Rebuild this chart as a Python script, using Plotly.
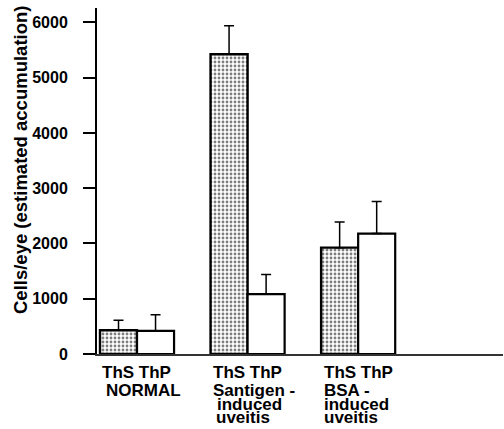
import plotly.graph_objects as go

# ---- data ----
groups = ["NORMAL", "Santigen-induced uveitis", "BSA-induced uveitis"]
ths_values = [430, 5425, 1925]
ths_errors = [180, 515, 465]
thp_values = [420, 1085, 2180]
thp_errors = [290, 355, 580]
y_ticks = [0, 1000, 2000, 3000, 4000, 5000, 6000]
group_label_lines = [
    ["ThS ThP", "NORMAL"],
    ["ThS ThP", "Santigen -", "induced", "uveitis"],
    ["ThS ThP", "BSA -", "induced", "uveitis"],
]
y_title = "Cells/eye (estimated accumulation)"

W, H = 504, 429
ML, MR, MT, MB = 97, 1, 8, 75
PH = H - MT - MB
FONT = "Liberation Sans, Arial, Helvetica, sans-serif"

fig = go.Figure()
fig.add_trace(go.Bar(
    x=groups, y=ths_values, name="ThS",
    marker=dict(color="white", line=dict(color="black", width=2.4),
                pattern=dict(shape=".", fgcolor="black", bgcolor="white",
                             size=4, solidity=0.4)),
    error_y=dict(type="data", array=ths_errors, arrayminus=[0]*3, symmetric=False,
                 color="black", thickness=1.5, width=5),
))
fig.add_trace(go.Bar(
    x=groups, y=thp_values, name="ThP",
    marker=dict(color="white", line=dict(color="black", width=2.2)),
    error_y=dict(type="data", array=thp_errors, arrayminus=[0]*3, symmetric=False,
                 color="black", thickness=1.5, width=5),
))


def py(ypix):
    return (H - MB - ypix) / PH


annotations = []
line_y = [372, 390, 404.5, 418]
offsets = [
    [-36, -32],
    [-36, -36, -32, -33],
    [-35, -35, -35, -35],
]
for gi, lines in enumerate(group_label_lines):
    for li, txt in enumerate(lines):
        annotations.append(dict(
            x=gi, xref="x", y=py(line_y[li]), yref="paper",
            text=txt, showarrow=False, xanchor="left", yanchor="middle",
            xshift=offsets[gi][li], borderpad=0,
            font=dict(family=FONT, size=17, color="black", weight="bold"),
        ))

annotations.append(dict(
    x=-77 / (W - ML - MR), xref="paper", y=py(160), yref="paper",
    text=y_title, textangle=-90, showarrow=False,
    xanchor="center", yanchor="middle",
    font=dict(family=FONT, size=18.5, color="black", weight="bold"),
))

fig.update_layout(
    width=W, height=H,
    margin=dict(l=ML, r=MR, t=MT, b=MB),
    paper_bgcolor="white", plot_bgcolor="white",
    barmode="group", bargap=0.33, bargroupgap=0,
    showlegend=False,
    annotations=annotations,
    font=dict(family=FONT, color="black"),
)
fig.update_xaxes(
    range=[-0.362, 3.31], showticklabels=False, ticks="",
    showline=True, linecolor="#333", linewidth=1.5, showgrid=False, zeroline=False,
)
fig.update_yaxes(
    range=[0, 6262], tickvals=y_ticks, ticks="outside", ticklen=12, tickwidth=2,
    tickcolor="black", ticklabelstandoff=12,
    tickfont=dict(family=FONT, size=16, color="black", weight="bold"),
    showline=True, linecolor="black", linewidth=2, showgrid=False, zeroline=False,
)

fig.write_html(
    "out.html",
    config={"displayModeBar": False},
    post_script="document.body.style.margin='0';document.body.style.overflow='hidden';",
)
